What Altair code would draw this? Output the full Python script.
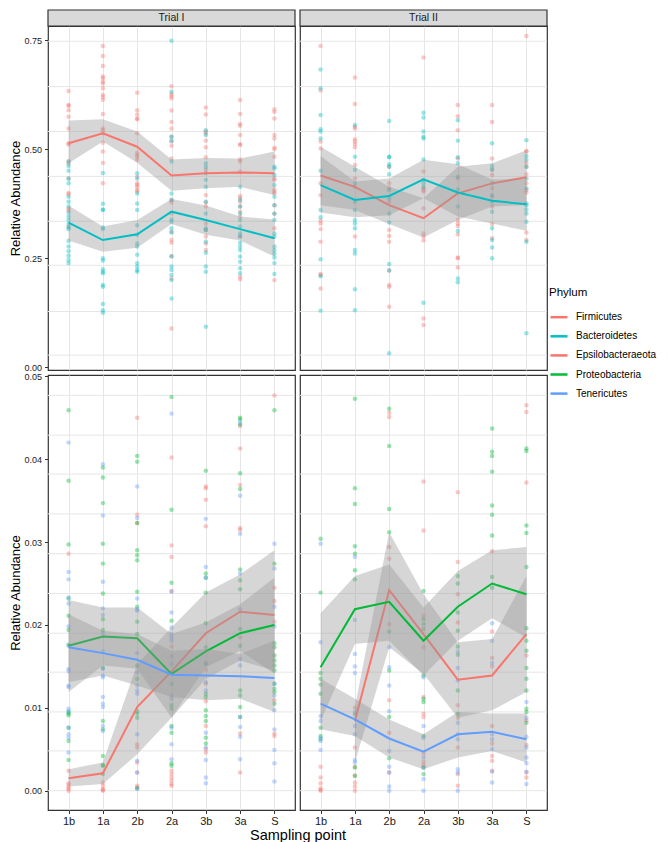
import altair as alt
import pandas as pd

samples = ["1b", "1a", "2b", "2a", "3b", "3a", "S"]
trials = ["Trial I", "Trial II"]
phyla = ["Firmicutes", "Bacteroidetes", "Epsilobacteraeota", "Proteobacteria", "Tenericutes"]
phylum_colors = ["#F8766D", "#00BFC4", "#F8766D", "#00BA38", "#619CFF"]
top_phyla = ["Firmicutes", "Bacteroidetes"]
bottom_phyla = ["Epsilobacteraeota", "Proteobacteria", "Tenericutes"]

top_ticks = [0.0, 0.25, 0.5, 0.75]
bottom_ticks = [0.0, 0.01, 0.02, 0.03, 0.04, 0.05]
top_grid = [0.028, 0.128, 0.234, 0.335, 0.438, 0.541, 0.644, 0.748]
bottom_grid = [0.0, 0.0048, 0.0095, 0.0143, 0.0190, 0.0238, 0.0286, 0.0334, 0.0382, 0.0429, 0.0477]
top_domain = [-0.0062, 0.783]
bottom_domain = [-0.00233, 0.05016]

# ---------- individual samples (one list per sampling point) ----------
t1_firmicutes = [
    [0.634, 0.602, 0.600, 0.590, 0.575, 0.548, 0.514, 0.511, 0.472, 0.467, 0.433, 0.400, 0.397, 0.364, 0.360, 0.323],
    [0.737, 0.714, 0.691, 0.667, 0.663, 0.655, 0.651, 0.640, 0.625, 0.620, 0.614, 0.581, 0.548, 0.544, 0.537, 0.515, 0.495, 0.469, 0.422],
    [0.630, 0.590, 0.580, 0.571, 0.569, 0.537, 0.492, 0.487, 0.483, 0.476, 0.437, 0.422, 0.418, 0.414, 0.407, 0.404],
    [0.645, 0.627, 0.622, 0.617, 0.589, 0.563, 0.548, 0.529, 0.518, 0.508, 0.479, 0.384, 0.378, 0.353, 0.311, 0.292, 0.286, 0.255, 0.204, 0.089],
    [0.596, 0.580, 0.541, 0.537, 0.520, 0.505, 0.482, 0.453, 0.395, 0.378, 0.369, 0.330, 0.315, 0.300, 0.284, 0.269],
    [0.613, 0.581, 0.558, 0.554, 0.533, 0.512, 0.510, 0.477, 0.472, 0.449, 0.393, 0.388, 0.380, 0.369, 0.357, 0.346, 0.300, 0.208, 0.202],
    [0.592, 0.586, 0.571, 0.533, 0.525, 0.504, 0.500, 0.483, 0.433, 0.430, 0.408, 0.403, 0.399, 0.372, 0.352, 0.319, 0.200],
]
t1_bacteroidetes = [
    [0.472, 0.462, 0.451, 0.433, 0.422, 0.391, 0.380, 0.369, 0.355, 0.346, 0.338, 0.329, 0.321, 0.317, 0.290, 0.277, 0.266, 0.256, 0.246, 0.239],
    [0.446, 0.375, 0.362, 0.361, 0.321, 0.317, 0.250, 0.245, 0.225, 0.219, 0.216, 0.189, 0.185, 0.145, 0.131, 0.125],
    [0.445, 0.433, 0.399, 0.376, 0.361, 0.326, 0.304, 0.284, 0.277, 0.258, 0.239, 0.231, 0.223, 0.219],
    [0.749, 0.632, 0.529, 0.520, 0.472, 0.399, 0.384, 0.339, 0.334, 0.319, 0.309, 0.255, 0.231, 0.223, 0.212, 0.200, 0.158],
    [0.544, 0.533, 0.468, 0.460, 0.445, 0.430, 0.414, 0.380, 0.353, 0.319, 0.315, 0.288, 0.263, 0.231, 0.219, 0.093],
    [0.414, 0.384, 0.369, 0.353, 0.338, 0.323, 0.307, 0.300, 0.286, 0.277, 0.269, 0.254, 0.242, 0.227, 0.216],
    [0.460, 0.456, 0.441, 0.418, 0.391, 0.372, 0.353, 0.338, 0.307, 0.300, 0.277, 0.269, 0.261, 0.252, 0.239, 0.214],
]
t2_firmicutes = [
    [0.737, 0.635, 0.518, 0.502, 0.422, 0.395, 0.336, 0.330, 0.317, 0.288, 0.214, 0.212, 0.181],
    [0.665, 0.604, 0.552, 0.548, 0.523, 0.518, 0.512, 0.505, 0.464, 0.433, 0.414, 0.300],
    [0.460, 0.422, 0.411, 0.380, 0.315, 0.301, 0.288, 0.222, 0.189, 0.185, 0.139],
    [0.711, 0.449, 0.411, 0.407, 0.403, 0.365, 0.307, 0.300, 0.291, 0.112, 0.097],
    [0.602, 0.576, 0.544, 0.479, 0.433, 0.338, 0.330, 0.324, 0.305, 0.252, 0.250, 0.229],
    [0.602, 0.563, 0.479, 0.454, 0.441, 0.411, 0.391, 0.369, 0.329, 0.296],
    [0.760, 0.496, 0.495, 0.469, 0.460, 0.443, 0.422, 0.407, 0.401, 0.309, 0.292],
]
t2_bacteroidetes = [
    [0.683, 0.640, 0.579, 0.546, 0.541, 0.525, 0.451, 0.361, 0.344, 0.248, 0.209, 0.130],
    [0.556, 0.483, 0.453, 0.422, 0.380, 0.361, 0.338, 0.330, 0.319, 0.269, 0.261, 0.179, 0.131],
    [0.565, 0.483, 0.482, 0.466, 0.460, 0.443, 0.407, 0.388, 0.353, 0.332, 0.237, 0.222, 0.032],
    [0.584, 0.573, 0.541, 0.529, 0.525, 0.477, 0.430, 0.422, 0.414, 0.148],
    [0.567, 0.520, 0.482, 0.468, 0.437, 0.408, 0.369, 0.313, 0.204, 0.195],
    [0.514, 0.462, 0.453, 0.422, 0.395, 0.380, 0.357, 0.319, 0.292, 0.275, 0.250],
    [0.521, 0.485, 0.476, 0.460, 0.433, 0.411, 0.376, 0.372, 0.362, 0.353, 0.334, 0.288, 0.078],
]
t1_epsilobacteraeota = [
    [0.0286, 0.0024, 0.0009, 0.0007, 0.0004, 0.0002, 0.0],
    [0.0010, 0.0006, 0.0002, 0.0001, 0.0],
    [0.0450, 0.0333, 0.0323, 0.0056, 0.0052, 0.0034, 0.0022, 0.0006, 0.0004],
    [0.0402, 0.0296, 0.0282, 0.0241, 0.0174, 0.0024, 0.0020, 0.0016, 0.0012, 0.0008, 0.0006],
    [0.0367, 0.0365, 0.0351, 0.0319, 0.0146, 0.0129, 0.0108, 0.0078, 0.0050, 0.0046],
    [0.0440, 0.0413, 0.0369, 0.0317, 0.0315, 0.0185, 0.0069, 0.0022],
    [0.0477, 0.0245, 0.0229, 0.0204, 0.0109, 0.0069, 0.0066],
]
t1_proteobacteria = [
    [0.0459, 0.0374, 0.0297, 0.0232, 0.0211, 0.0194, 0.0176, 0.0095, 0.0093, 0.0091, 0.0076, 0.0060, 0.0037],
    [0.0390, 0.0378, 0.0347, 0.0298, 0.0274, 0.0238, 0.0207, 0.0194, 0.0148, 0.0084, 0.0074, 0.0042, 0.0031, 0.0030, 0.0020],
    [0.0404, 0.0397, 0.0323, 0.0290, 0.0284, 0.0278, 0.0240, 0.0222, 0.0204, 0.0189, 0.0151, 0.0135, 0.0096, 0.0093, 0.0088, 0.0003],
    [0.0475, 0.0339, 0.0251, 0.0205, 0.0129, 0.0103, 0.0099, 0.0078, 0.0070, 0.0033, 0.0030],
    [0.0386, 0.0262, 0.0257, 0.0239, 0.0202, 0.0173, 0.0153, 0.0117, 0.0113, 0.0097, 0.0090, 0.0084, 0.0064, 0.0057],
    [0.0450, 0.0448, 0.0442, 0.0383, 0.0364, 0.0267, 0.0254, 0.0243, 0.0195, 0.0175, 0.0121, 0.0115, 0.0101, 0.0089],
    [0.0459, 0.0274, 0.0178, 0.0173, 0.0163, 0.0157, 0.0151, 0.0145, 0.0129, 0.0123, 0.0119, 0.0105],
]
t1_tenericutes = [
    [0.0420, 0.0264, 0.0255, 0.0233, 0.0226, 0.0198, 0.0175, 0.0147, 0.0144, 0.0127, 0.0125, 0.0099, 0.0096, 0.0076, 0.0068, 0.0064, 0.0046],
    [0.0394, 0.0332, 0.0252, 0.0220, 0.0212, 0.0190, 0.0168, 0.0147, 0.0139, 0.0137, 0.0113, 0.0105, 0.0101, 0.0078, 0.0072],
    [0.0367, 0.0329, 0.0232, 0.0219, 0.0217, 0.0166, 0.0143, 0.0127, 0.0121, 0.0117, 0.0068, 0.0036, 0.0022, 0.0002],
    [0.0455, 0.0240, 0.0215, 0.0197, 0.0189, 0.0185, 0.0181, 0.0162, 0.0153, 0.0115, 0.0111, 0.0076, 0.0056, 0.0038],
    [0.0328, 0.0270, 0.0257, 0.0154, 0.0131, 0.0121, 0.0070, 0.0052, 0.0037, 0.0016, 0.0009],
    [0.0444, 0.0356, 0.0310, 0.0262, 0.0219, 0.0159, 0.0151, 0.0089, 0.0077, 0.0065, 0.0038],
    [0.0298, 0.0268, 0.0222, 0.0198, 0.0129, 0.0115, 0.0097, 0.0074, 0.0049, 0.0033, 0.0011],
]
t2_epsilobacteraeota = [
    [0.0029, 0.0016, 0.0009, 0.0003, 0.0001, 0.0],
    [0.0100, 0.0052, 0.0029, 0.0018, 0.0010, 0.0005, 0.0],
    [0.0456, 0.0451, 0.0294, 0.0280, 0.0201, 0.0109, 0.0070, 0.0022],
    [0.0373, 0.0314, 0.0211, 0.0173, 0.0113, 0.0093, 0.0089, 0.0045, 0.0035, 0.0031],
    [0.0360, 0.0276, 0.0237, 0.0203, 0.0103, 0.0088, 0.0052, 0.0020, 0.0006],
    [0.0289, 0.0192, 0.0160, 0.0150, 0.0078, 0.0057, 0.0042, 0.0036, 0.0024],
    [0.0465, 0.0457, 0.0372, 0.0163, 0.0085, 0.0055, 0.0022, 0.0016],
]
t2_proteobacteria = [
    [0.0304, 0.0239, 0.0142, 0.0135, 0.0128, 0.0117, 0.0076, 0.0066, 0.0062],
    [0.0473, 0.0365, 0.0346, 0.0295, 0.0286, 0.0266, 0.0255, 0.0092, 0.0028, 0.0018],
    [0.0461, 0.0416, 0.0340, 0.0312, 0.0192, 0.0145, 0.0089, 0.0039],
    [0.0241, 0.0207, 0.0201, 0.0195, 0.0139, 0.0111, 0.0107, 0.0066, 0.0028, 0.0020],
    [0.0259, 0.0250, 0.0215, 0.0193, 0.0174, 0.0164, 0.0121, 0.0093],
    [0.0437, 0.0409, 0.0404, 0.0385, 0.0344, 0.0333, 0.0308, 0.0258, 0.0245],
    [0.0413, 0.0410, 0.0320, 0.0311, 0.0270, 0.0196, 0.0181, 0.0169, 0.0148, 0.0135, 0.0121, 0.0099, 0.0095, 0.0082],
]
t2_tenericutes = [
    [0.0298, 0.0179, 0.0090, 0.0084, 0.0064, 0.0060, 0.0049],
    [0.0282, 0.0206, 0.0165, 0.0150, 0.0142, 0.0095, 0.0078, 0.0068, 0.0037, 0.0034],
    [0.0173, 0.0149, 0.0127, 0.0096, 0.0048, 0.0029, 0.0022, 0.0005, 0.0],
    [0.0137, 0.0078, 0.0064, 0.0040, 0.0028, 0.0014, 0.0],
    [0.0168, 0.0148, 0.0133, 0.0082, 0.0068, 0.0062, 0.0026, 0.0022, 0.0],
    [0.0202, 0.0181, 0.0154, 0.0068, 0.0062, 0.0050, 0.0023, 0.0010],
    [0.0107, 0.0088, 0.0065, 0.0052, 0.0040, 0.0033, 0.0023, 0.0008],
]

# ---------- smoothed mean and confidence band per sampling point ----------
t1_firmicutes_mean = [0.514, 0.537, 0.506, 0.440, 0.445, 0.447, 0.445]
t1_firmicutes_lo = [0.468, 0.518, 0.469, 0.405, 0.411, 0.414, 0.395]
t1_firmicutes_hi = [0.566, 0.569, 0.541, 0.477, 0.480, 0.479, 0.495]
t1_bacteroidetes_mean = [0.332, 0.292, 0.305, 0.357, 0.338, 0.317, 0.296]
t1_bacteroidetes_lo = [0.291, 0.265, 0.274, 0.329, 0.304, 0.291, 0.254]
t1_bacteroidetes_hi = [0.371, 0.323, 0.338, 0.386, 0.371, 0.346, 0.339]
t2_firmicutes_mean = [0.440, 0.414, 0.372, 0.342, 0.399, 0.422, 0.436]
t2_firmicutes_lo = [0.372, 0.361, 0.329, 0.298, 0.338, 0.369, 0.372]
t2_firmicutes_hi = [0.506, 0.460, 0.414, 0.388, 0.460, 0.468, 0.498]
t2_bacteroidetes_mean = [0.418, 0.384, 0.393, 0.431, 0.401, 0.382, 0.374]
t2_bacteroidetes_lo = [0.355, 0.344, 0.349, 0.388, 0.346, 0.330, 0.313]
t2_bacteroidetes_hi = [0.485, 0.426, 0.433, 0.476, 0.466, 0.431, 0.433]

t1_epsilobacteraeota_mean = [0.0015, 0.0021, 0.0101, 0.0144, 0.0190, 0.0216, 0.0212]
t1_epsilobacteraeota_lo = [0.0005, 0.0008, 0.0044, 0.0088, 0.0149, 0.0169, 0.0141]
t1_epsilobacteraeota_hi = [0.0026, 0.0034, 0.0153, 0.0197, 0.0239, 0.0261, 0.0290]
t1_proteobacteria_mean = [0.0175, 0.0186, 0.0184, 0.0141, 0.0168, 0.0190, 0.0200]
t1_proteobacteria_lo = [0.0119, 0.0151, 0.0147, 0.0088, 0.0135, 0.0157, 0.0145]
t1_proteobacteria_hi = [0.0230, 0.0221, 0.0221, 0.0189, 0.0203, 0.0225, 0.0257]
t1_tenericutes_mean = [0.0173, 0.0166, 0.0158, 0.0140, 0.0139, 0.0138, 0.0136]
t1_tenericutes_lo = [0.0131, 0.0139, 0.0127, 0.0113, 0.0109, 0.0111, 0.0095]
t1_tenericutes_hi = [0.0213, 0.0193, 0.0189, 0.0169, 0.0171, 0.0165, 0.0181]
t2_epsilobacteraeota_mean = [None, 0.0084, 0.0242, 0.0189, 0.0134, 0.0139, 0.0189]
t2_epsilobacteraeota_lo = [None, 0.0034, 0.0173, 0.0141, 0.0088, 0.0097, 0.0119]
t2_epsilobacteraeota_hi = [None, 0.0101, 0.0312, 0.0237, 0.0179, 0.0183, 0.0259]
t2_proteobacteria_mean = [0.0149, 0.0219, 0.0228, 0.0181, 0.0222, 0.0250, 0.0237]
t2_proteobacteria_lo = [0.0084, 0.0177, 0.0181, 0.0139, 0.0181, 0.0208, 0.0185]
t2_proteobacteria_hi = [0.0214, 0.0259, 0.0273, 0.0221, 0.0265, 0.0290, 0.0294]
t2_tenericutes_mean = [0.0105, 0.0086, 0.0063, 0.0047, 0.0068, 0.0071, 0.0062]
t2_tenericutes_lo = [0.0074, 0.0066, 0.0040, 0.0026, 0.0040, 0.0048, 0.0034]
t2_tenericutes_hi = [0.0135, 0.0111, 0.0086, 0.0068, 0.0095, 0.0093, 0.0093]

series = [
    ("Trial I", "Firmicutes", t1_firmicutes, t1_firmicutes_mean, t1_firmicutes_lo, t1_firmicutes_hi),
    ("Trial I", "Bacteroidetes", t1_bacteroidetes, t1_bacteroidetes_mean, t1_bacteroidetes_lo, t1_bacteroidetes_hi),
    ("Trial II", "Firmicutes", t2_firmicutes, t2_firmicutes_mean, t2_firmicutes_lo, t2_firmicutes_hi),
    ("Trial II", "Bacteroidetes", t2_bacteroidetes, t2_bacteroidetes_mean, t2_bacteroidetes_lo, t2_bacteroidetes_hi),
    ("Trial I", "Epsilobacteraeota", t1_epsilobacteraeota, t1_epsilobacteraeota_mean, t1_epsilobacteraeota_lo, t1_epsilobacteraeota_hi),
    ("Trial I", "Proteobacteria", t1_proteobacteria, t1_proteobacteria_mean, t1_proteobacteria_lo, t1_proteobacteria_hi),
    ("Trial I", "Tenericutes", t1_tenericutes, t1_tenericutes_mean, t1_tenericutes_lo, t1_tenericutes_hi),
    ("Trial II", "Epsilobacteraeota", t2_epsilobacteraeota, t2_epsilobacteraeota_mean, t2_epsilobacteraeota_lo, t2_epsilobacteraeota_hi),
    ("Trial II", "Proteobacteria", t2_proteobacteria, t2_proteobacteria_mean, t2_proteobacteria_lo, t2_proteobacteria_hi),
    ("Trial II", "Tenericutes", t2_tenericutes, t2_tenericutes_mean, t2_tenericutes_lo, t2_tenericutes_hi),
]

color_of = dict(zip(phyla, phylum_colors))
pt_rows, sm_rows = [], []
for trial, phy, groups, mean, lo, hi in series:
    for i, s in enumerate(samples):
        for v in groups[i]:
            pt_rows.append({"trial": trial, "phylum": phy, "sample": s, "value": v,
                            "col": color_of[phy]})
        if mean[i] is not None:
            sm_rows.append({"trial": trial, "phylum": phy, "sample": s, "idx": i,
                            "mean": mean[i], "lo": lo[i], "hi": hi[i]})
pts_all = pd.DataFrame(pt_rows)
sm_all = pd.DataFrame(sm_rows)

# ---------- styling ----------
W = 247
H_TOP = 344
H_BOT = 435
GRID = "#E6E6E6"
FONT = "Liberation Sans"

color_scale = alt.Scale(domain=phyla, range=phylum_colors)
legend = alt.Legend(
    title="Phylum", orient="none", legendX=501, legendY=260.5,
    symbolType="stroke", symbolStrokeWidth=2.5, symbolSize=289,
    labelFontSize=10, titleFontSize=11.5, titleFontWeight="normal",
    titleColor="#000000", labelColor="#000000", rowPadding=4.1,
    titlePadding=9.2, labelOffset=7, padding=0, symbolOpacity=1,
)


def panel(trial, top, left):
    group = top_phyla if top else bottom_phyla
    yscale = alt.Scale(domain=top_domain if top else bottom_domain, nice=False, zero=False)
    xscale = alt.Scale(type="point", domain=samples, padding=0.6)
    if left:
        yaxis = alt.Axis(
            values=top_ticks if top else bottom_ticks, format=".2f",
            title="Relative Abundance", grid=False, domain=False,
            tickSize=3.5, tickColor="#333333", tickWidth=1,
            labelFontSize=9, labelColor="#1a1a1a", labelPadding=3,
            titleFontSize=13, titleFontWeight="normal", titleColor="#000000",
            titlePadding=2, minExtent=24, maxExtent=24,
        )
    else:
        yaxis = None
    if top:
        xaxis = alt.Axis(labels=False, ticks=False, domain=False, title=None,
                         grid=True, gridColor=GRID, gridWidth=1, minExtent=0, maxExtent=0)
    else:
        xaxis = alt.Axis(
            labelAngle=0, labelFontSize=11, labelColor="#1a1a1a",
            tickSize=3.5, tickColor="#333333", labelPadding=2, domain=False,
            grid=True, gridColor=GRID, gridWidth=1,
            title="Sampling point" if left else None,
            titleFontSize=14.5, titleFontWeight="normal", titleColor="#000000",
            titlePadding=1.5, titleX=W + 2.5,
        )
    X = alt.X("sample:O", sort=samples, scale=xscale, axis=xaxis)

    grid_df = pd.DataFrame({"v": top_grid if top else bottom_grid})
    layers = [
        alt.Chart(grid_df).mark_rule(color=GRID, strokeWidth=1).encode(
            y=alt.Y("v:Q", scale=yscale, axis=yaxis)
        )
    ]
    p = pts_all[(pts_all.trial == trial) & (pts_all.phylum.isin(group))]
    layers.append(
        alt.Chart(p).mark_circle(size=20, fillOpacity=0.4, strokeWidth=0).encode(
            x=X, y=alt.Y("value:Q", scale=yscale, axis=yaxis),
            fill=alt.Fill("col:N", scale=None),
        )
    )
    for phy in group:
        s = sm_all[(sm_all.trial == trial) & (sm_all.phylum == phy)]
        layers.append(
            alt.Chart(s).mark_area(orient="vertical", fill="#999999", fillOpacity=0.4).encode(
                x=X, y=alt.Y("lo:Q", scale=yscale, axis=yaxis), y2=alt.Y2("hi"),
            )
        )
        layers.append(
            alt.Chart(s).mark_line(strokeWidth=2).encode(
                x=X, y=alt.Y("mean:Q", scale=yscale, axis=yaxis),
                color=alt.Color("phylum:N", scale=color_scale, legend=legend),
                order=alt.Order("idx:Q"),
            )
        )
    if top:
        strip_df = pd.DataFrame({"label": [trial]})
        layers.append(
            alt.Chart(strip_df).mark_rect(fill="#D9D9D9", stroke="#333333", strokeWidth=1.2).encode(
                x=alt.value(0), x2=alt.value(W), y=alt.value(-16), y2=alt.value(0)
            )
        )
        layers.append(
            alt.Chart(strip_df).mark_text(fontSize=10.5, color="#1a1a1a", baseline="middle").encode(
                x=alt.value(W / 2), y=alt.value(-8), text="label:N"
            )
        )
    return alt.layer(*layers).properties(width=W, height=H_TOP if top else H_BOT)


chart = (
    alt.concat(
        panel("Trial I", True, True), panel("Trial II", True, False),
        panel("Trial I", False, True), panel("Trial II", False, False),
        columns=2, spacing=5, bounds="flush",
    )
    .resolve_scale(x="independent", y="independent", color="shared")
    .resolve_legend(color="shared")
    .properties(padding={"left": 0, "top": 0, "right": 0, "bottom": 0})
    .configure(font=FONT, background="white")
    .configure_view(stroke="#333333", strokeWidth=1.2)
)

chart.save("out.html", embed_options={"renderer": "svg", "actions": False})
